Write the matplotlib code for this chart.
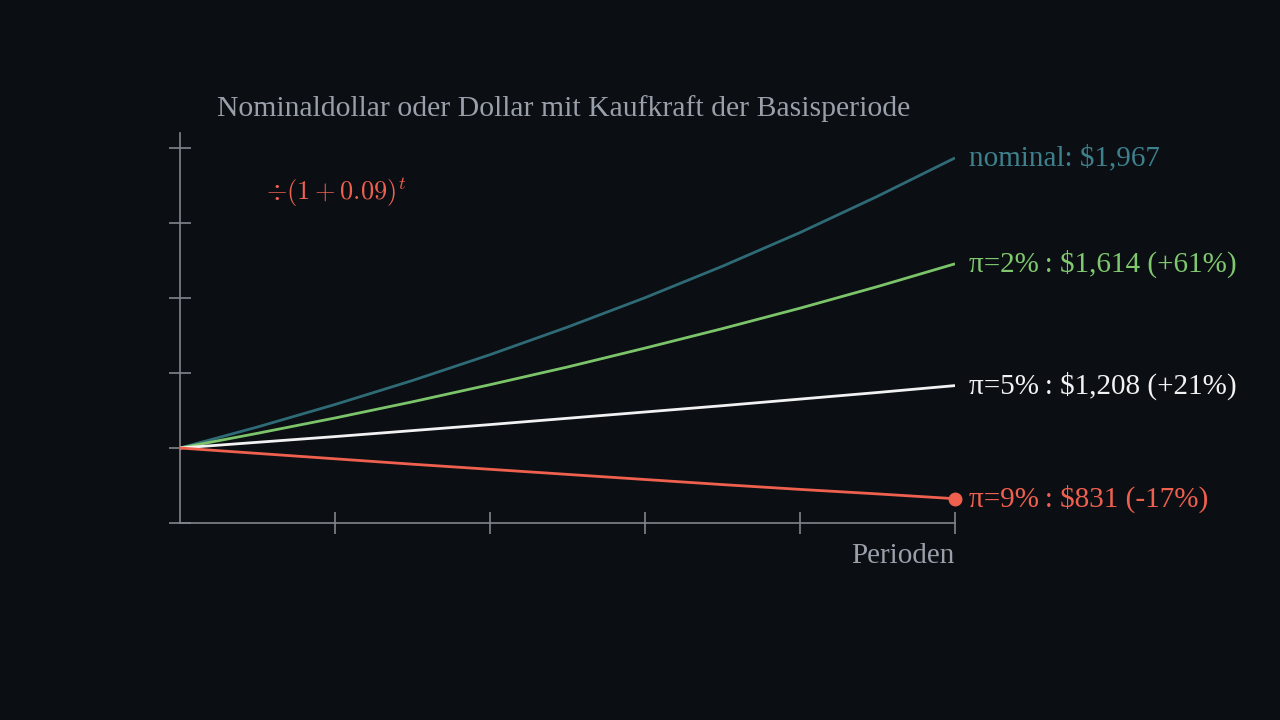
import matplotlib
matplotlib.use("Agg")
import matplotlib.pyplot as plt

# ---------------------------------
# Data (Dollar, t = 0..10)
# ---------------------------------
periods = [0, 1, 2, 3, 4, 5, 6, 7, 8, 9, 10]
nominal = [1000, 1070, 1145, 1225, 1311, 1403, 1501, 1606, 1718, 1839, 1967]
real_2 = [1000, 1049, 1100, 1154, 1211, 1270, 1333, 1398, 1466, 1538, 1614]
real_5 = [1000, 1019, 1038, 1058, 1078, 1099, 1120, 1141, 1163, 1185, 1208]
real_9 = [1000, 982, 964, 946, 929, 912, 895, 878, 862, 847, 831]

labels = [
    "nominal: $1,967",
    "\u03c0=2%\u2009: $1,614 (+61%)",
    "\u03c0=5%\u2009: $1,208 (+21%)",
    "\u03c0=9%\u2009: $831 (-17%)",
]

x_ticks = [2, 4, 6, 8, 10]
y_ticks = [750, 1000, 1250, 1500, 1750, 2000]

title = "Nominaldollar oder Dollar mit Kaufkraft der Basisperiode"
x_label = "Perioden"
formula = r"$\div(1+0.09)^t$"

# ---------------------------------
# Style
# ---------------------------------
bg = "#0b0e13"
axis_col = "#80858d"
text_col = "#9aa0aa"
line_cols = ["#2f6b76", "#7cc46a", "#f2f2f2", "#f0604f"]
text_cols = ["#3e808c", "#80c86e", "#f2f2f2", "#f0604f"]

plt.rcParams["font.family"] = ["Liberation Serif", "DejaVu Serif"]
plt.rcParams["mathtext.fontset"] = "cm"

fig = plt.figure(figsize=(12.8, 7.2), dpi=100, facecolor=bg)
ax = fig.add_axes([180 / 1280, 197 / 720, 775 / 1280, 390 / 720])
ax.set_facecolor(bg)

# ---------------------------------
# Lines + end labels
# ---------------------------------
series = [nominal, real_2, real_5, real_9]
for vals, lc, tc, lab in zip(series, line_cols, text_cols, labels):
    ax.plot(periods, vals, color=lc, lw=2.0, solid_capstyle="butt", zorder=3)
    ax.text(periods[-1] + 0.18, vals[-1], lab, color=tc, fontsize=21,
            va="center", ha="left", parse_math=False, clip_on=False)

ax.plot(periods[-1], real_9[-1], "o", color=line_cols[3], ms=9,
        zorder=4, clip_on=False)

# ---------------------------------
# Axes
# ---------------------------------
ax.set_xlim(0, 10)
ax.set_ylim(750, 2050)
ax.set_xticks(x_ticks)
ax.set_yticks(y_ticks)
ax.tick_params(direction="inout", length=16, width=1.2, colors=axis_col,
               labelleft=False, labelbottom=False)
for side in ["top", "right"]:
    ax.spines[side].set_visible(False)
for side in ["left", "bottom"]:
    ax.spines[side].set_color(axis_col)
    ax.spines[side].set_linewidth(1.2)

fig.text(564 / 1280, 1 - 109 / 720, title, color=text_col, fontsize=21.4,
         ha="center", va="center")
fig.text(955 / 1280, 1 - 556 / 720, x_label, color=text_col, fontsize=21,
         ha="right", va="center")
fig.text(266 / 1280, 1 - 192 / 720, formula, color=line_cols[3], fontsize=19,
         ha="left", va="center")

fig.savefig("out.png", dpi=100, facecolor=bg)
